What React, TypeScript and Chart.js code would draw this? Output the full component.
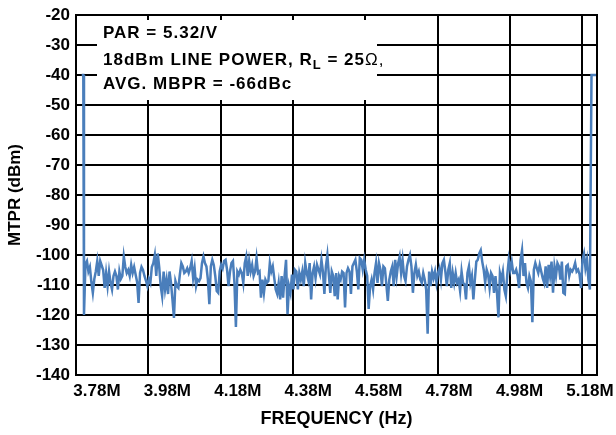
import React, { useEffect, useRef } from 'react';
import { Chart, registerables } from 'chart.js';

Chart.register(...registerables);

// ---- axis data ----
const TICK_HZ = [3.78e6, 3.98e6, 4.18e6, 4.38e6, 4.58e6, 4.78e6, 4.98e6, 5.18e6];
const TICK_LABELS = ['3.78M', '3.98M', '4.18M', '4.38M', '4.58M', '4.78M', '4.98M', '5.18M'];
const X_MIN_HZ = 3.78e6;
const X_MAX_HZ = 5.2212e6;
// label row in the original is slightly offset from the grid
const LABEL_MIN_HZ = 3.7204e6;
const LABEL_MAX_HZ = 5.2001e6;
const Y_MIN = -140;
const Y_MAX = -20;
const Y_STEP = 10;

// ---- series data ----
const LEFT_TONE_HZ = [3.7958e6, 3.8002e6];
const LEFT_TONE_DBM = [-40, -40];
const RIGHT_TONE_HZ = [5.206e6, 5.2212e6];
const RIGHT_TONE_DBM = [-40, -40];
const NOISE_START_HZ = 3.8021e6;
const NOISE_STEP_HZ = 4080;
const NOISE_DBM = [
  -120, -103, -102, -105.5, -104, -109, -112.6, -108, -105.5, -102,
  -107, -102, -103.5, -105, -111, -106, -110.4, -105.5, -109.3, -111.5,
  -107, -105.5, -107, -111.5, -105.5, -108, -107, -100.5, -104, -106,
  -105, -107, -103.3, -106, -104, -106.5, -109, -116, -106, -104,
  -105, -107, -108.5, -110.4, -108,
  -109.3, -104, -102.7, -100, -107, -99.5, -104, -110.4, -113.7, -105.5,
  -111.5, -108.2, -113, -105.5, -109.3, -115, -121, -108.7, -110.4, -111,
  -106.5, -102.7, -103.8, -106, -105.5, -104.4, -106, -104.4, -102, -107.7,
  -104.4, -110.4, -108.2, -108.7, -107.7, -102.7, -100.5, -102.7, -103.8, -108.2,
  -116.4, -103.8, -101.6, -103.3, -107, -112, -112.6, -105.5, -103.3, -104.5,
  -102,
  -101.6, -104.9, -110.4, -105.5, -102.7, -102, -109.3, -124, -105.5, -106.5,
  -104.9, -106, -109.3, -102.7, -100.5, -107, -102, -105.5, -103.3, -107,
  -105.5, -101, -106, -105.5, -114.2, -108.2, -112.6, -108.2, -109.3, -108.7,
  -102.7, -105.5, -103.8, -107.7, -111.5, -113, -109.3, -114.8, -107, -114.2,
  -107, -101.6, -119.7, -110.4, -112.6, -106.5, -111.5, -104.9, -105.5, -111.5,
  -106, -108.2,
  -105.5, -110.4, -102.7, -106, -108.2, -102.7, -114.8, -106, -103.8, -107.7,
  -103.3, -104.9, -106.5, -101.6, -105.5, -113, -103.8, -100, -106.5, -112.6,
  -105.5, -107, -113.7, -106, -114.8, -107, -108.2, -105.5, -106, -117.5,
  -106, -104.4, -105.5, -113, -103.8, -102.7, -101.6, -105.5, -111.5, -101,
  -101.6, -104.9, -101.6, -104.9, -107, -118, -110.4, -108.2, -111.5, -106,
  -102.7, -109.3, -102.7, -104.9, -110.4, -103.8, -104.4, -109.8, -115.3, -108.2,
  -105.5, -103.8, -110.4, -101.6, -107, -102.7, -100.5, -106, -101.6, -107,
  -108.7, -103.8, -101.6, -100, -103.8, -112.6, -106, -103.3, -107, -105.5,
  -108.2, -109.3, -106, -108.2, -111.5, -126.2, -105.5, -110.4, -105.5, -107.7,
  -105.5, -109.3, -106, -104.4, -108.2, -102.7, -101.6, -105.5, -110.4, -104.9,
  -102.7, -111, -106, -109.3, -106, -109.3, -108.2, -112, -105.5, -109.3,
  -109.8, -114.8, -106, -103.8, -109.3, -107, -114.8, -108.2, -102.2, -101.6,
  -99.5, -98.4, -102.2, -104.9, -109.3, -104.9, -106.5, -111, -106, -107,
  -112.6, -107, -112.6, -120.8, -106, -108.2, -105.5, -111.5, -113.7, -106.5,
  -101.6, -104.9, -102.2, -106, -106, -104.9, -107, -111, -101.6, -98.4,
  -107, -102.7, -109.3, -111, -107, -108.7, -122.4, -104.9, -102.7, -104.4,
  -106, -103.3, -105.5, -107.7, -109.3, -103.8, -111, -103.3, -107, -102.2,
  -112.6, -103.8, -107, -102.7, -103.8, -108.2, -102.2, -112.6, -113, -103.8,
  -103.3, -107, -104.9, -105.5, -104.4, -102.7, -105.5, -104.9, -106.5, -111,
  -101.6, -99.5, -104.4, -101.6, -108.2, -111.5,
];

// ---- text ----
const NOTE_LINE_1 = 'PAR = 5.32/V';
const NOTE_LINE_2_MAIN = '18dBm LINE POWER, R';
const NOTE_LINE_2_SUB = 'L';
const NOTE_LINE_2_TAIL = ' = 25';
const NOTE_LINE_2_OHM = '\u03A9,';
const NOTE_LINE_3 = 'AVG. MBPR = -66dBc';
const X_TITLE = 'FREQUENCY (Hz)';
const Y_TITLE = 'MTPR (dBm)';

const FONT_FAMILY = '"Liberation Sans", Arial, Helvetica, sans-serif';
const LINE_COLOR = '#4A7EBB';

const overlayPlugin = {
  id: 'overlay',
  beforeDatasetsDraw(chart: any) {
    const { ctx, chartArea: a } = chart;
    ctx.save();
    // note box
    ctx.fillStyle = '#ffffff';
    ctx.fillRect(a.left + 21, a.top + 5, 280, 80);
    ctx.fillStyle = '#000000';
    ctx.textBaseline = 'alphabetic';
    ctx.textAlign = 'left';
    try { (ctx as any).letterSpacing = '1px'; } catch (e) { /* ignore */ }
    const bold = `bold 17px ${FONT_FAMILY}`;
    const x0 = a.left + 27;
    ctx.font = bold;
    ctx.fillText(NOTE_LINE_1, x0, a.top + 22.5);
    let x = x0;
    const y2 = a.top + 50;
    ctx.fillText(NOTE_LINE_2_MAIN, x, y2);
    x += ctx.measureText(NOTE_LINE_2_MAIN).width;
    ctx.font = `bold 13px ${FONT_FAMILY}`;
    ctx.fillText(NOTE_LINE_2_SUB, x, y2 + 4);
    x += ctx.measureText(NOTE_LINE_2_SUB).width;
    ctx.font = bold;
    ctx.fillText(NOTE_LINE_2_TAIL, x, y2);
    x += ctx.measureText(NOTE_LINE_2_TAIL).width;
    ctx.font = `17px ${FONT_FAMILY}`;
    ctx.fillText(NOTE_LINE_2_OHM, x, y2);
    ctx.font = bold;
    ctx.fillText(NOTE_LINE_3, x0, a.top + 74);
    try { (ctx as any).letterSpacing = '0px'; } catch (e) { /* ignore */ }
    ctx.restore();
  },
  afterDatasetsDraw(chart: any) {
    const { ctx, chartArea: a } = chart;
    ctx.save();
    ctx.strokeStyle = '#000000';
    ctx.lineWidth = 2;
    ctx.strokeRect(Math.round(a.left), Math.round(a.top), Math.round(a.right) - Math.round(a.left), Math.round(a.bottom) - Math.round(a.top));
    ctx.restore();
  },
};

export default function App() {
  const canvasRef = useRef<HTMLCanvasElement | null>(null);

  useEffect(() => {
    const canvas = canvasRef.current;
    if (!canvas) return;

    const points: { x: number; y: number }[] = [];
    LEFT_TONE_HZ.forEach((f, i) => points.push({ x: f, y: LEFT_TONE_DBM[i] }));
    NOISE_DBM.forEach((v, i) => points.push({ x: NOISE_START_HZ + i * NOISE_STEP_HZ, y: v }));
    RIGHT_TONE_HZ.forEach((f, i) => points.push({ x: f, y: RIGHT_TONE_DBM[i] }));

    const yTicks: number[] = [];
    for (let v = Y_MAX; v >= Y_MIN; v -= Y_STEP) yTicks.push(v);

    const chart = new Chart(canvas, {
      type: 'line',
      data: {
        datasets: [
          {
            data: points,
            borderColor: LINE_COLOR,
            borderWidth: 2.5,
            pointRadius: 0,
            tension: 0,
            fill: false,
            xAxisID: 'x',
            yAxisID: 'y',
          },
        ],
      },
      options: {
        responsive: false,
        animation: false,
        devicePixelRatio: 1,
        layout: { padding: { top: 15, right: 19, left: 0, bottom: 0 } },
        plugins: { legend: { display: false }, tooltip: { enabled: false }, title: { display: false } },
        scales: {
          x: {
            type: 'linear',
            position: 'bottom',
            min: X_MIN_HZ,
            max: X_MAX_HZ,
            afterBuildTicks: (scale: any) => {
              scale.ticks = TICK_HZ.map((v) => ({ value: v }));
            },
            afterFit: (scale: any) => {
              scale.height = 0;
              scale.paddingLeft = 0;
              scale.paddingRight = 0;
            },
            ticks: { display: false },
            grid: { color: '#000000', lineWidth: 2, drawTicks: false },
            border: { display: false },
          },
          x2: {
            type: 'linear',
            position: 'bottom',
            min: LABEL_MIN_HZ,
            max: LABEL_MAX_HZ,
            afterBuildTicks: (scale: any) => {
              scale.ticks = TICK_HZ.map((v) => ({ value: v }));
            },
            afterFit: (scale: any) => {
              scale.height = 60;
              scale.paddingLeft = 0;
              scale.paddingRight = 0;
            },
            ticks: {
              autoSkip: false,
              maxRotation: 0,
              minRotation: 0,
              padding: 6,
              color: '#000000',
              font: { family: FONT_FAMILY, size: 17, weight: 'bold' },
              callback: (_v: any, i: number) => TICK_LABELS[i],
            },
            grid: { display: false, drawTicks: false },
            border: { display: false },
            title: {
              display: true,
              text: X_TITLE,
              color: '#000000',
              font: { family: FONT_FAMILY, size: 18, weight: 'bold' },
              padding: { top: 0, bottom: 5 },
            },
          },
          y: {
            type: 'linear',
            min: Y_MIN,
            max: Y_MAX,
            afterBuildTicks: (scale: any) => {
              scale.ticks = yTicks.map((v) => ({ value: v }));
            },
            afterFit: (scale: any) => {
              scale.width = 76;
              scale.paddingTop = 0;
              scale.paddingBottom = 0;
            },
            ticks: {
              padding: 6,
              color: '#000000',
              font: { family: FONT_FAMILY, size: 17, weight: 'bold' },
            },
            grid: { color: '#000000', lineWidth: 2, drawTicks: false },
            border: { display: false },
            title: {
              display: true,
              text: Y_TITLE,
              color: '#000000',
              font: { family: FONT_FAMILY, size: 17, weight: 'bold' },
              padding: { top: 5, bottom: 0 },
            },
          },
        },
      },
      plugins: [overlayPlugin],
    } as any);

    return () => chart.destroy();
  }, []);

  return (
    <div style={{ position: 'absolute', left: 0, top: 0, width: 616, height: 435, background: '#ffffff' }}>
      <canvas ref={canvasRef} width={616} height={435} style={{ display: 'block' }} />
    </div>
  );
}
